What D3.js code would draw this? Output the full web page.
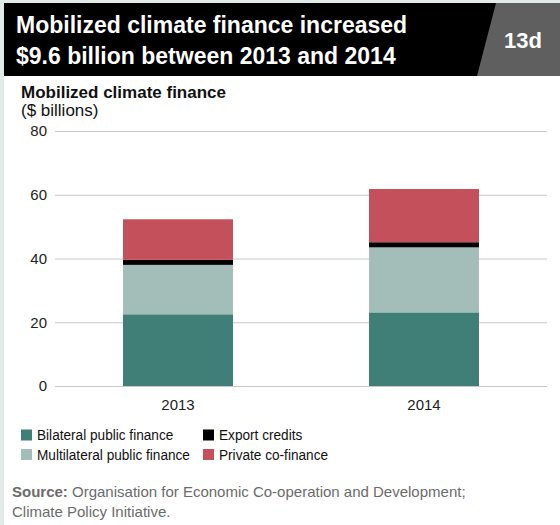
<!DOCTYPE html>
<html>
<head>
<meta charset="utf-8">
<script src="https://cdn.jsdelivr.net/npm/d3@7"></script>
<style>
  html, body { margin: 0; padding: 0; background: #fff; }
  svg { display: block; }
</style>
</head>
<body>
<svg id="chart" width="560" height="525"></svg>
<script>
// ---- data ----
const years = ["2013", "2014"];
const seriesNames = ["Bilateral public finance", "Multilateral public finance", "Export credits", "Private co-finance"];
const bilateral = [22.5, 23.1];
const multilateral = [15.5, 20.4];
const exportCredits = [1.6, 1.6];
const privateCofinance = [12.7, 16.7];
const yTicks = [0, 20, 40, 60, 80];
const titleLines = ["Mobilized climate finance increased", "$9.6 billion between 2013 and 2014"];
const figureTag = "13d";
const axisTitle = "Mobilized climate finance";
const axisUnit = "($ billions)";
const sourceLines = ["Organisation for Economic Co-operation and Development;", "Climate Policy Initiative."];

const colors = ["#3f7f78", "#a3bdb9", "#000000", "#c4505c"];

const rows = years.map((y, i) => ({
  year: y,
  "Bilateral public finance": bilateral[i],
  "Multilateral public finance": multilateral[i],
  "Export credits": exportCredits[i],
  "Private co-finance": privateCofinance[i]
}));

const svg = d3.select("#chart");
const font = "'Liberation Sans', Arial, sans-serif";

// background strips
svg.append("rect").attr("x", 0).attr("y", 0).attr("width", 560).attr("height", 525).attr("fill", "#fff");
svg.append("rect").attr("x", 0).attr("y", 0).attr("width", 4).attr("height", 525).attr("fill", "#e2ebe8");
svg.append("rect").attr("x", 0).attr("y", 0).attr("width", 560).attr("height", 3).attr("fill", "#e2ebe8");

// title box
svg.append("rect").attr("x", 4).attr("y", 3).attr("width", 556).attr("height", 73).attr("fill", "#000");
svg.append("path").attr("d", "M496,3 L560,3 L560,76 L477,76 Z").attr("fill", "#5f5f5f");
svg.append("text").attr("x", 523).attr("y", 48).attr("text-anchor", "middle")
  .attr("font-family", font).attr("font-weight", "bold").attr("font-size", 22).attr("fill", "#fff")
  .text(figureTag);
titleLines.forEach((t, i) => {
  svg.append("text").attr("x", 16).attr("y", 33 + i * 31)
    .attr("font-family", font).attr("font-weight", "bold").attr("font-size", 23).attr("fill", "#fff")
    .text(t);
});

// axis titles
svg.append("text").attr("x", 21).attr("y", 98).attr("font-family", font).attr("font-weight", "bold")
  .attr("font-size", 17).attr("fill", "#111").text(axisTitle);
svg.append("text").attr("x", 21).attr("y", 116).attr("font-family", font)
  .attr("font-size", 17).attr("fill", "#111").text(axisUnit);

// scales
const x = d3.scaleBand().domain(years).range([55, 547]).paddingInner(0.553).paddingOuter(0.2765);
const y = d3.scaleLinear().domain([0, 80]).range([386, 131]);

// gridlines + y labels
const gAxis = svg.append("g").attr("transform", "translate(55,0)")
  .call(d3.axisLeft(y).tickValues(yTicks).tickSize(-492).tickPadding(8).tickFormat(d3.format("d")));
gAxis.select(".domain").remove();
gAxis.selectAll(".tick line").attr("stroke", "#c8c8c8").attr("stroke-width", 1.2);
gAxis.selectAll(".tick text").attr("font-family", font).attr("font-size", 15).attr("fill", "#222");

// stacked bars
const stacked = d3.stack().keys(seriesNames)(rows);
svg.append("g").selectAll("g").data(stacked).join("g")
  .attr("fill", (d, i) => colors[i])
  .selectAll("rect").data(d => d).join("rect")
  .attr("x", d => x(d.data.year))
  .attr("width", x.bandwidth())
  .attr("y", d => y(d[1]))
  .attr("height", d => y(d[0]) - y(d[1]));

// x axis labels
const gx = svg.append("g").attr("transform", "translate(0,386)")
  .call(d3.axisBottom(x).tickSize(0).tickPadding(13));
gx.select(".domain").remove();
gx.selectAll(".tick text").attr("font-family", font).attr("font-size", 15).attr("fill", "#222");

// legend
const legendPos = [[21, 435], [21, 454.5], [203, 435], [203, 454.5]];
const lg = svg.append("g");
seriesNames.forEach((name, i) => {
  const [lx, ly] = legendPos[i];
  lg.append("rect").attr("x", lx).attr("y", ly - 5.5).attr("width", 11).attr("height", 11).attr("fill", colors[i]);
  lg.append("text")
    .attr("transform", `translate(${lx + 16},${ly + 5}) scale(0.94,1)`)
    .attr("font-family", font)
    .attr("font-size", 14.5).attr("fill", "#111").text(name);
});

// source
const s1 = svg.append("text").attr("x", 12).attr("y", 497).attr("font-family", font).attr("font-size", 15).attr("fill", "#6b6b6b");
s1.append("tspan").attr("font-weight", "bold").text("Source:");
s1.append("tspan").text(" " + sourceLines[0]);
svg.append("text").attr("x", 12).attr("y", 517).attr("font-family", font).attr("font-size", 15).attr("fill", "#6b6b6b")
  .text(sourceLines[1]);
</script>
</body>
</html>
